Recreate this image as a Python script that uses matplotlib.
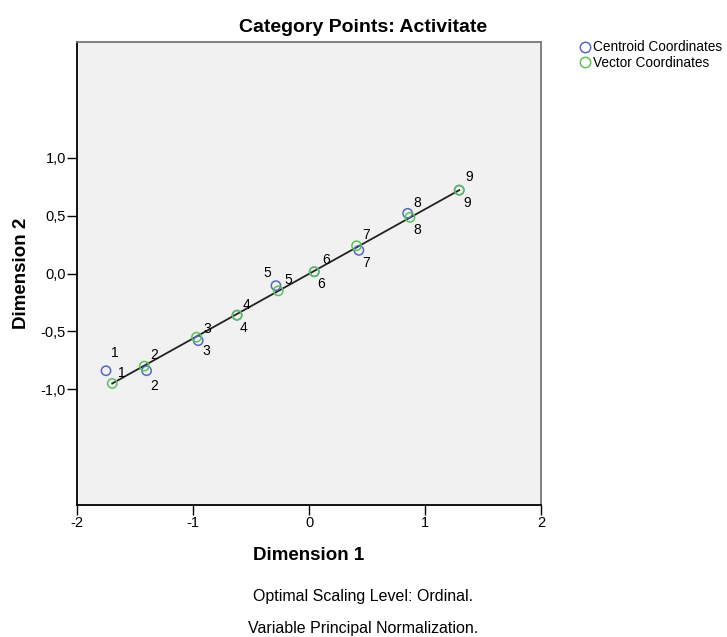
import matplotlib
matplotlib.use("Agg")
import matplotlib.pyplot as plt
from matplotlib.lines import Line2D

plt.rcParams['font.family'] = ['Liberation Sans', 'DejaVu Sans']

# category labels 1..9
categories = ['1', '2', '3', '4', '5', '6', '7', '8', '9']

# centroid coordinates (dim 1, dim 2)
centroid_x = [-1.75, -1.40, -0.955, -0.62, -0.285, 0.045, 0.43, 0.85, 1.295]
centroid_y = [-0.84, -0.84, -0.58, -0.36, -0.105, 0.015, 0.20, 0.52, 0.72]

# vector coordinates (dim 1, dim 2)
vector_x = [-1.696, -1.42, -0.97, -0.62, -0.265, 0.045, 0.41, 0.87, 1.295]
vector_y = [-0.95, -0.80, -0.55, -0.36, -0.15, 0.015, 0.24, 0.485, 0.72]

yticks = [-1.0, -0.5, 0.0, 0.5, 1.0]
xticks = [-2, -1, 0, 1, 2]

blue = '#5468c4'
green = '#5cc25c'

# label offsets in pixels (style only)
c_off = [(9, 18), (8, -15), (8, -10), (6, -13), (-9, 13), (7, -12), (7, -13), (10, 10), (10, 13)]
v_off = [(10, 10), (10, 11), (11, 8), (9, 10), (10, 11), (12, 12), (10, 11), (7, -13), (8, -13)]

fig = plt.figure(figsize=(7.27, 6.37), dpi=100)
ax = fig.add_axes([77 / 727, 1 - 505 / 637, 464 / 727, 463 / 637])
ax.set_facecolor('#f0f1f0')

# line through the vector coordinates
ax.plot([vector_x[0], vector_x[-1]], [vector_y[0], vector_y[-1]], color='#222222', lw=1.3, zorder=2)

ax.scatter(centroid_x, centroid_y, s=45, facecolors='none', edgecolors=blue, linewidths=1.1, zorder=3)
ax.scatter(vector_x, vector_y, s=45, facecolors='none', edgecolors=green, linewidths=1.1, zorder=4)

for i, c in enumerate(categories):
    ax.annotate(c, (centroid_x[i], centroid_y[i]), xytext=c_off[i], textcoords='offset pixels',
                ha='center', va='center', fontsize=10)
    ax.annotate(c, (vector_x[i], vector_y[i]), xytext=v_off[i], textcoords='offset pixels',
                ha='center', va='center', fontsize=10)

ax.set_xlim(-2, 2)
ax.set_ylim(-2, 2)
ax.set_xticks(xticks)
ax.set_xticklabels([str(t) for t in xticks])
ax.set_yticks(yticks)
ax.set_yticklabels([('%.1f' % t).replace('.', ',') for t in yticks])
ax.tick_params(direction='out', length=7, width=1, labelsize=10.5, pad=1)

for side in ['left', 'bottom']:
    ax.spines[side].set_color('black')
    ax.spines[side].set_linewidth(1.3)
for side in ['top', 'right']:
    ax.spines[side].set_color('#777777')
    ax.spines[side].set_linewidth(1.3)

ax.set_xlabel('Dimension 1', fontsize=13.5, fontweight='bold', labelpad=12)
ax.set_ylabel('Dimension 2', fontsize=13.5, fontweight='bold', labelpad=8)

fig.text(0.5, 1 - 27 / 637, 'Category Points: Activitate', ha='center', va='center',
         fontsize=14, fontweight='bold')
fig.text(0.5, 1 - 597 / 637, 'Optimal Scaling Level: Ordinal.', ha='center', va='center', fontsize=11.5)
fig.text(0.5, 1 - 628 / 637, 'Variable Principal Normalization.', ha='center', va='center', fontsize=11.5)

handles = [Line2D([], [], ls='none', marker='o', mfc='none', mec=blue, ms=7.5, mew=1.1),
           Line2D([], [], ls='none', marker='o', mfc='none', mec=green, ms=7.5, mew=1.1)]
fig.legend(handles, ['Centroid Coordinates', 'Vector Coordinates'], loc='upper left',
           bbox_to_anchor=(573 / 727, 1 - 35 / 637), frameon=False, fontsize=9.8,
           handletextpad=0.05, handlelength=1.0, labelspacing=0.1, borderaxespad=0)

fig.savefig('out.png', dpi=100)
